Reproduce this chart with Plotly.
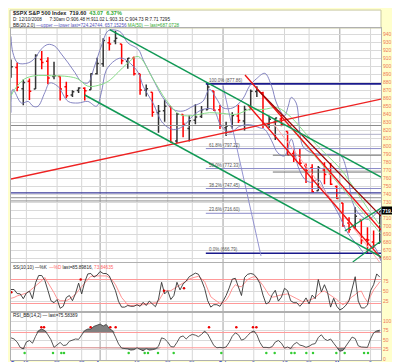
import plotly.graph_objects as go
from plotly.subplots import make_subplots

# ---------------- data ----------------
days = ["12/10", "12/11", "12/12", "12/15", "12/16", "12/17", "12/18", "12/19", "12/22", "12/23",
        "12/24", "12/26", "12/29", "12/30", "12/31", "1/2", "1/5", "1/6", "1/7", "1/8",
        "1/9", "1/12", "1/13", "1/14", "1/15", "1/16", "1/20", "1/21", "1/22", "1/23",
        "1/26", "1/27", "1/28", "1/29", "1/30", "2/2", "2/3", "2/4", "2/5", "2/6",
        "2/9", "2/10", "2/11", "2/12", "2/13", "2/17", "2/18", "2/19", "2/20", "2/23",
        "2/24", "2/25", "2/26", "2/27", "3/2", "3/3", "3/4", "3/5", "3/6", "3/9", "3/10"]
bar_open = [892.17, 898.35, 871.79, 881.07, 871.53, 908.16, 905.98, 886.96, 887.20, 874.31,
            863.87, 869.51, 872.37, 870.58, 890.59, 902.99, 929.17, 931.17, 927.45, 905.73,
            909.91, 890.40, 869.79, 867.28, 841.99, 844.45, 849.64, 806.77, 839.74, 822.16,
            832.50, 837.30, 845.73, 868.89, 845.69, 823.09, 825.69, 837.77, 831.75, 846.09,
            868.24, 866.87, 827.41, 829.91, 833.95, 818.61, 791.06, 787.91, 775.87, 773.25,
            744.69, 770.64, 765.76, 749.93, 729.57, 704.44, 698.60, 708.27, 684.04, 680.76, 679.28]
bar_high = [908.27, 904.63, 883.24, 884.63, 914.66, 918.85, 911.02, 905.47, 887.37, 880.44,
            869.79, 873.74, 873.70, 891.12, 910.32, 934.73, 936.63, 943.85, 927.45, 910.00,
            911.93, 890.40, 877.02, 867.28, 851.59, 858.13, 849.64, 841.72, 839.74, 838.61,
            852.53, 850.45, 877.86, 868.89, 851.66, 830.78, 842.60, 851.85, 850.55, 870.75,
            875.01, 868.05, 838.22, 835.48, 839.43, 818.61, 796.17, 797.58, 778.69, 777.85,
            775.49, 780.12, 779.42, 751.27, 729.57, 711.67, 724.12, 708.27, 699.09, 695.27, 719.60]
bar_low = [885.45, 868.73, 851.35, 857.72, 871.53, 895.94, 877.44, 883.48, 857.09, 860.10,
           861.44, 866.52, 857.07, 870.58, 889.67, 899.35, 919.53, 927.28, 902.37, 896.81,
           888.31, 864.32, 862.02, 836.93, 817.04, 830.66, 804.47, 804.30, 811.29, 806.07,
           827.69, 835.40, 845.73, 844.15, 821.67, 812.87, 821.98, 829.18, 819.91, 845.42,
           861.65, 822.99, 822.98, 808.06, 825.21, 789.17, 780.43, 777.03, 754.25, 742.37,
           744.69, 752.89, 751.75, 734.52, 699.70, 692.30, 698.60, 677.93, 666.79, 672.88, 679.28]
bar_close = [899.24, 873.59, 879.73, 868.57, 913.18, 904.42, 885.28, 887.88, 871.63, 863.16,
             868.15, 872.80, 869.42, 890.64, 903.25, 931.80, 927.45, 934.70, 906.65, 909.73,
             890.35, 870.26, 871.79, 842.62, 843.74, 850.12, 805.22, 840.24, 827.50, 831.95,
             836.57, 845.71, 874.09, 845.14, 825.88, 825.44, 838.51, 832.23, 845.85, 868.60,
             869.89, 827.16, 833.74, 835.19, 826.84, 789.17, 788.42, 778.94, 770.05, 743.33,
             773.14, 764.90, 752.83, 735.09, 700.82, 696.33, 712.87, 682.55, 683.38, 676.53, 719.60]
# trading-day index (Jan 2 = 0)
bar_x = [i - 15 for i in range(len(days))]

# Bollinger bands and MA(50) (trading-day index, price)
bb_upper_x = [-15.0, -14.7, -13.9, -12.2, -11.1, -10.1, -9.0, -7.9, -6.8, -5.7, -4.6, -3.6, -2.5, -1.4,
              -0.3, 0.8, 1.9, 2.9, 4.0, 5.7, 6.5, 8.1, 9.7, 11.4, 13.0, 14.6, 16.2, 17.3, 18.4, 19.5,
              21.1, 22.7, 23.8, 24.9, 26.3, 27.4, 28.2, 29.5, 30.1, 30.6, 31.4, 32.0, 32.5, 33.9,
              36.0, 37.7, 38.7, 39.6, 40.6, 41.5, 43.1, 45.2]
bb_upper_y = [937, 917, 904, 904, 910, 921, 927, 925, 915, 904, 892, 881, 879, 900,
              925, 944, 945, 942, 929, 921, 908, 884, 861, 846, 844, 850, 856, 871, 860, 848,
              848, 859, 875, 884, 891, 875, 854, 838, 850, 861, 854, 817, 800, 792,
              790, 790, 788, 771, 730, 717, 709, 724]
bb_lower_x = [-15.0, -14.7, -13.3, -12.2, -11.4, -10.6, -9.5, -8.7, -7.4, -5.7, -4.1, -2.5, -1.1, -0.3,
              0.5, 1.9, 2.9, 4.0, 5.7, 6.5, 8.1, 9.7, 11.4, 13.0, 14.6, 16.2, 17.9, 19.2, 20.6, 22.2,
              23.8, 25.5, 26.3, 27.4, 28.4, 29.5, 30.6, 31.7, 32.8, 33.9, 35.0, 36.0, 38.2, 39.8,
              41.5, 42.6, 43.9, 45.2]
bb_lower_y = [842, 871, 854, 856, 850, 850, 867, 879, 875, 856, 854, 856, 850, 867,
              895, 907, 910, 906, 892, 875, 854, 829, 821, 825, 838, 846, 846, 825, 817, 825,
              827, 823, 821, 807, 792, 788, 809, 775, 759, 755, 759, 746, 717, 692,
              676, 667, 676, 657]
ma_x = [-15.0, -14.4, -12.8, -11.1, -8.4, -5.7, -4.1, -2.5, -0.8, 0.8, 2.4, 4.0, 5.7, 8.1, 10.3,
        12.4, 14.1, 15.7, 17.3, 19.5, 21.7, 23.8, 26.0, 28.4, 30.6, 33.3, 36.0, 38.7, 40.9, 43.1, 45.2]
ma_y = [863, 871, 884, 888, 888, 887, 884, 875, 876, 881, 892, 904, 912, 884, 857,
        840, 838, 840, 842, 841, 840, 846, 846, 848, 836, 813, 792, 771, 747, 722, 700]

# drawn trend lines (start / end in trading-day index and price)
green_upper = ([1.06, 45.2], [945.4, 761.8])
green_lower = ([-3.0, 45.2], [864.0, 662.2])
green_short_a = ([39.3, 45.2], [694.5, 723.2])
green_short_b = ([40.6, 45.2], [655.9, 682.1])
red_rising = ([-15.0, 45.2], [759.3, 859.0])
red_fall_1 = ([23.07, 45.2], [888.9, 695.8])
red_fall_2 = ([25.19, 45.2], [870.2, 713.2])
red_fall_3 = ([23.56, 45.2], [851.5, 660.9])
red_fall_4 = ([27.63, 45.2], [829.0, 653.4])
ltgreen_fall = ([30.56, 45.2], [822.9, 690.8])
blue_steep = ([19.5, 25.68], [875.2, 663.4])

fib_start = 16.7
fib_levels = [877.86, 797.22, 772.33, 747.45, 716.60, 666.79]
fib_names = ["100.0%", "61.8%", "50.0%", "38.2%", "23.6%", "0.0%"]
full_gray_levels = [826, 736, 732]
full_navy_levels = [742]
partial_gray_start = 27.6
partial_gray_levels = [789, 768]
light_gray_start = 20.0
light_gray_levels = [815]

# oscillators, sampled every half trading day from x = -15
osc_step = 0.5
ss_k = [55, 55, 45, 44, 32, 46, 51, 32, 72, 90,
        90, 78, 53, 27, 22, 30, 8, 13, 35, 40,
        27, 45, 71, 44, 74, 94, 95, 86, 91, 100,
        95, 95, 89, 71, 52, 25, 11, 11, 15, 13,
        13, 17, 13, 23, 15, 26, 18, 12, 31, 73,
        44, 52, 30, 40, 73, 54, 69, 76, 87, 92,
        96, 93, 78, 58, 27, 11, 17, 17, 13, 26,
        40, 59, 81, 83, 60, 40, 85, 93, 95, 93,
        84, 70, 41, 19, 23, 42, 53, 26, 36, 58,
        52, 27, 22, 22, 13, 22, 34, 19, 41, 32,
        80, 49, 67, 48, 11, 33, 13, 4, 8, 16,
        27, 60, 87, 26, 9, 9, 16, 52, 67, 94,
        86]
ss_d = [33, 35, 39, 41, 44, 46, 51, 57, 63, 70,
        77, 85, 73, 62, 47, 32, 27, 27, 27, 31,
        36, 43, 53, 63, 72, 80, 88, 89, 89, 89,
        89, 89, 85, 78, 67, 51, 35, 26, 16, 15,
        15, 15, 16, 17, 18, 20, 21, 22, 26, 39,
        52, 52, 52, 57, 62, 67, 73, 78, 81, 84,
        87, 88, 82, 75, 56, 37, 31, 26, 20, 23,
        28, 40, 57, 67, 63, 62, 71, 80, 84, 87,
        85, 76, 65, 53, 41, 36, 37, 40, 41, 42,
        44, 40, 35, 32, 28, 24, 26, 28, 31, 35,
        43, 49, 51, 46, 41, 36, 30, 23, 17, 22,
        30, 37, 42, 49, 51, 35, 24, 38, 54, 64,
        74]
rsi = [56, 53, 45, 31, 27, 45, 49, 42, 60, 75,
       79, 75, 64, 51, 31, 37, 44, 36, 37, 47,
       50, 53, 52, 63, 75, 79, 79, 86, 89, 92,
       87, 91, 80, 75, 58, 40, 29, 28, 27, 24,
       25, 30, 25, 22, 28, 24, 25, 27, 34, 56,
       53, 45, 33, 32, 44, 58, 61, 53, 61, 65,
       63, 59, 65, 73, 66, 49, 36, 30, 31, 30,
       32, 44, 60, 69, 64, 50, 53, 62, 70, 74,
       64, 44, 31, 31, 30, 33, 45, 49, 42, 29,
       32, 28, 39, 44, 37, 35, 31, 34, 39, 41,
       57, 64, 53, 49, 53, 42, 31, 21, 23, 34,
       45, 58, 54, 35, 32, 32, 31, 53, 69, 74,
       76]
osc_x = [-15 + osc_step * i for i in range(len(rsi))]

ss_dot_x = [-14.95, -3.66, 9.89, 13.15]
ss_dot_y = [48, 80, 52, 58]
rsi_red_dot_x = [-10.07, -9.63, -2.04, 1.16, 2.03, 17.22, 21.66, 24.37, 24.92]
rsi_green_dot_x = [-12.78, -8.17, -6.81, -6.38, 4.15, 6.75, 7.29, 8.92, 11.47, 19.22,
                   26.54, 27.9, 30.61, 31.15, 33.05, 34.14, 37.93, 39.29, 42.44, 43.09]

tick_pos = [-14.3, -12.5, -7.5, -3.5, -0.5, 5.5, 10.5, 14.5, 19.5, 24.5, 29.5, 33.5, 38.5, 43.5]
tick_text = ["<b>Dec</b>", "15", "22", "29", "<b>Jan</b>", "12", "20", "26", "<b>Feb</b>", "9", "17",
             "23", "<b>Mar</b>", "9"]
week_lines = [-12.5, -7.5, -3.5, 0.5, 5.5, 10.5, 14.5, 24.5, 29.5, 33.5, 43.5]
month_lines = [-0.5, 19.5, 38.5]

price_ticks = list(range(660, 950, 10))

# ---------------- figure ----------------
FONT = "Liberation Sans"
AX_COLOR = "#EE7755"
fig = make_subplots(rows=3, cols=1, shared_xaxes=True, vertical_spacing=0)

# vertical grid lines
for v in week_lines:
    fig.add_shape(type="line", xref="x", yref="paper", x0=v, x1=v, y0=0, y1=1,
                  line=dict(color="#D6D6D6", width=1), layer="below")
for v in month_lines:
    fig.add_shape(type="line", xref="x", yref="paper", x0=v, x1=v, y0=0, y1=1,
                  line=dict(color="#A0A0A0", width=1), layer="below")

def seg(xy, color, width=1.2, row=1, dash=None):
    fig.add_trace(go.Scatter(x=xy[0], y=xy[1], mode="lines",
                             line=dict(color=color, width=width, dash=dash),
                             hoverinfo="skip", showlegend=False), row=row, col=1)

# horizontal lines
for lv in full_gray_levels:
    seg(([-15.0, 45.2], [lv, lv]), "#8C8C8C", 1)
for lv in full_navy_levels:
    seg(([-15.0, 45.2], [lv, lv]), "#3A3A9A", 1.2)
for lv in partial_gray_levels:
    seg(([partial_gray_start, 45.2], [lv, lv]), "#707070", 1)
for lv in light_gray_levels:
    seg(([light_gray_start, 45.2], [lv, lv]), "#B0B0C8", 1)
for name, lv in zip(fib_names, fib_levels):
    if name in ("100.0%", "0.0%"):
        seg(([fib_start, 45.2], [lv, lv]), "#1A1A8C", 1.6)
    else:
        seg(([fib_start, 45.2], [lv, lv]), "#8A8AC8", 1)
    fig.add_annotation(x=fib_start + 0.2, y=lv, xref="x", yref="y", text=f"{name} ({lv:.2f})",
                       showarrow=False, xanchor="left", yanchor="bottom", yshift=-1,
                       font=dict(family=FONT, size=4.5, color="#555555"))

# indicators
fig.add_trace(go.Scatter(x=bb_upper_x, y=bb_upper_y, mode="lines", line=dict(color="#7777BB", width=0.9, shape="spline"),
                         hoverinfo="skip", showlegend=False), row=1, col=1)
fig.add_trace(go.Scatter(x=bb_lower_x, y=bb_lower_y, mode="lines", line=dict(color="#7777BB", width=0.9, shape="spline"),
                         hoverinfo="skip", showlegend=False), row=1, col=1)
fig.add_trace(go.Scatter(x=ma_x, y=ma_y, mode="lines", line=dict(color="#88DD88", width=1, shape="spline"),
                         hoverinfo="skip", showlegend=False), row=1, col=1)

# trend lines
seg(blue_steep, "#8888CC", 0.9)
seg(ltgreen_fall, "#99DD99", 1)
seg(red_fall_4, "#FFAAAA", 1)
seg(red_rising, "#EE2222", 1.3)
seg(red_fall_1, "#EE1111", 1.3)
seg(red_fall_2, "#990000", 1.2)
seg(red_fall_3, "#EE1111", 1.3)
seg(green_upper, "#119955", 1.5)
seg(green_lower, "#119955", 1.5)
seg(green_short_a, "#119955", 1.2)
seg(green_short_b, "#119955", 1.2)

# price bars
fig.add_trace(go.Ohlc(x=bar_x, open=bar_open, high=bar_high, low=bar_low, close=bar_close,
                      increasing=dict(line=dict(color="#333333", width=1.5)),
                      decreasing=dict(line=dict(color="#FF0000", width=1.5)),
                      tickwidth=0.3, hoverinfo="skip", showlegend=False), row=1, col=1)

# slow stochastic panel
for lv in (80, 20):
    fig.add_shape(type="line", xref="paper", yref="y2", x0=0, x1=1, y0=lv, y1=lv,
                  line=dict(color="#FF9999", width=1), layer="below")
fig.add_trace(go.Scatter(x=osc_x, y=ss_d, mode="lines", line=dict(color="#FF8888", width=0.9),
                         hoverinfo="skip", showlegend=False), row=2, col=1)
fig.add_trace(go.Scatter(x=osc_x, y=ss_k, mode="lines", line=dict(color="#333333", width=0.9),
                         hoverinfo="skip", showlegend=False), row=2, col=1)
fig.add_trace(go.Scatter(x=ss_dot_x, y=ss_dot_y, mode="markers", marker=dict(color="#DD0000", size=2.5),
                         hoverinfo="skip", showlegend=False), row=2, col=1)

# RSI panel
for lv in (70, 30):
    fig.add_shape(type="line", xref="paper", yref="y3", x0=0, x1=1, y0=lv, y1=lv,
                  line=dict(color="#FF9999", width=1), layer="below")
rsi_hi = [max(v, 70) for v in rsi]
rsi_lo = [min(v, 30) for v in rsi]
fig.add_trace(go.Scatter(x=osc_x, y=[70] * len(rsi), mode="lines", line=dict(width=0),
                         hoverinfo="skip", showlegend=False), row=3, col=1)
fig.add_trace(go.Scatter(x=osc_x, y=rsi_hi, mode="lines", line=dict(width=0), fill="tonexty",
                         fillcolor="#808080", hoverinfo="skip", showlegend=False), row=3, col=1)
fig.add_trace(go.Scatter(x=osc_x, y=[30] * len(rsi), mode="lines", line=dict(width=0),
                         hoverinfo="skip", showlegend=False), row=3, col=1)
fig.add_trace(go.Scatter(x=osc_x, y=rsi_lo, mode="lines", line=dict(width=0), fill="tonexty",
                         fillcolor="#808080", hoverinfo="skip", showlegend=False), row=3, col=1)
fig.add_trace(go.Scatter(x=osc_x, y=rsi, mode="lines", line=dict(color="#444444", width=0.9),
                         hoverinfo="skip", showlegend=False), row=3, col=1)
fig.add_trace(go.Scatter(x=rsi_red_dot_x, y=[84] * len(rsi_red_dot_x), mode="markers",
                         marker=dict(color="#EE0000", size=2.5), hoverinfo="skip", showlegend=False), row=3, col=1)
fig.add_trace(go.Scatter(x=rsi_green_dot_x, y=[16] * len(rsi_green_dot_x), mode="markers",
                         marker=dict(color="#33CC33", size=2.5), hoverinfo="skip", showlegend=False), row=3, col=1)

# axes
xr = [-15.0, 45.2]
for i in (1, 2, 3):
    fig.update_xaxes(range=xr, showgrid=False, zeroline=False, showline=True, linecolor="#B0B0B0",
                     linewidth=1, mirror=True, ticks="", showticklabels=False,
                     rangeslider_visible=False, row=i, col=1)

fig.update_yaxes(range=[655.9, 947.5], side="right", tickvals=price_ticks,
                 ticktext=[str(v) for v in price_ticks], showgrid=True, gridcolor="#DADADA", gridwidth=1,
                 zeroline=False, showline=True, linecolor="#B0B0B0", mirror=True, ticks="",
                 tickfont=dict(family=FONT, size=5, color=AX_COLOR), row=1, col=1)
fig.update_yaxes(range=[-1.2, 121.3], side="right", tickvals=[25, 50, 75], ticktext=["25", "50", "75"],
                 showgrid=True, gridcolor="#DADADA", zeroline=False, showline=True, linecolor="#B0B0B0",
                 mirror=True, ticks="", tickfont=dict(family=FONT, size=5, color=AX_COLOR), row=2, col=1)
fig.update_yaxes(range=[-2.0, 123.6], side="right", tickvals=[0, 25, 50, 75, 100],
                 ticktext=["0", "25", "50", "75", "100"], showgrid=True, gridcolor="#DADADA",
                 zeroline=False, showline=True, linecolor="#B0B0B0", mirror=True, ticks="",
                 tickfont=dict(family=FONT, size=5, color=AX_COLOR), row=3, col=1)

fig.update_layout(
    width=400, height=362,
    margin=dict(l=3, r=27, t=20, b=10),
    paper_bgcolor="#FFFFCC", plot_bgcolor="#FFFFFF",
    showlegend=False,
    yaxis=dict(domain=[0.2952, 1.0]),
    yaxis2=dict(domain=[0.1446, 0.2922]),
    yaxis3=dict(domain=[0.0, 0.1446]),
)

# date labels below the bottom panel
for pos, txt in zip(tick_pos, tick_text):
    fig.add_annotation(x=pos, y=-0.010, xref="x", yref="paper", text=txt, showarrow=False,
                       xanchor="center", yanchor="middle", borderpad=0,
                       font=dict(family=FONT, size=5, color="#3344CC"))

# header box
fig.add_shape(type="rect", xref="paper", yref="paper", x0=-0.0027, x1=1.0, y0=1.0, y1=1.054,
              fillcolor="#FFFFFF", line=dict(color="#C8C8A0", width=1), layer="below")

def note(text, x, y, size=5, anchor="left", yref="paper", **kw):
    fig.add_annotation(x=x, y=y, xref="paper", yref=yref, text=text, showarrow=False,
                       xanchor=anchor, yanchor="middle", font=dict(family=FONT, size=size, color="#222222"), **kw)

note("<b>$SPX S&P 500 Index</b>  <b>719.60</b>  <span style='color:#33AA33'><b>43.07  6.37%</b></span>",
     0.0, 1.045, size=5.5)
note("D: 12/10/2008      7:30am O:906.48 H:911.02 L:903.31 C:904.73 R:7.71 7295", 0.0, 1.027, size=4.6)
note("BB(20,2.0) <span style='color:#5555BB'>\u2014upper \u2014lower last=724.24744, 657.15256</span> "
     "<span style='color:#33AA33'>MA(50) \u2014 last=687.0728</span>", 0.0, 1.009, size=4.6)
note("SS(10,10) \u2014%K  <span style='color:#FF6666'>\u2014%D</span> last=85.89816, "
     "<span style='color:#FF6666'>73.84635</span>", 0.0, 0.280, size=4.6)
note("RSI_BB(14,2) \u2014 last=75.58389", 0.0, 0.1355, size=4.6)

# last price box
fig.add_annotation(x=1.0, y=719.6, xref="paper", yref="y", text="<b>719.60</b>", showarrow=False,
                   xanchor="left", yanchor="middle", bgcolor="#000000", borderpad=0.5,
                   font=dict(family=FONT, size=5, color="#FFFFFF"))

fig.write_html("out.html")
